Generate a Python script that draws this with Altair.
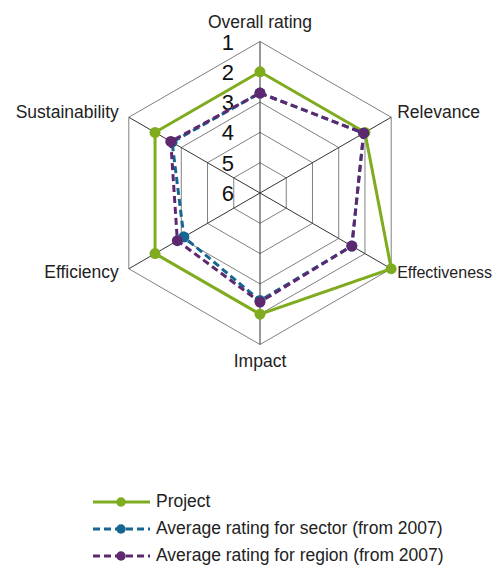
import altair as alt
import pandas as pd

# ---- data ----
categories = ["Overall rating", "Relevance", "Effectiveness", "Impact", "Efficiency", "Sustainability"]
project = [2, 2, 1, 2, 2, 2]
sector = [2.7, 2.05, 2.5, 2.45, 3.1, 2.65]
region = [2.7, 2.05, 2.5, 2.4, 2.85, 2.6]
series_names = ["Project", "Average rating for sector (from 2007)", "Average rating for region (from 2007)"]
series_values = [project, sector, region]
series_colors = ["#7fab1f", "#156792", "#5e2870"]
series_dash = [[1, 0], [7, 4], [7, 4]]
ring_levels = [1, 2, 3, 4, 5]
tick_labels = ["1", "2", "3", "4", "5", "6"]

# ---- layout (styling) ----
U = 30.3          # pixels per rating step
W, H = 487, 559
CX, CY = 252, 185
FONT = "Liberation Sans"
FS = 17.5
N = len(categories)

xs = alt.Scale(domain=[-CX, W - CX], nice=False, zero=False)
ys = alt.Scale(domain=[-(H - CY), CY], nice=False, zero=False)

polar = dict(
    r=f"(6 - datum.rating) * {U}",
    ang=f"datum.idx * PI / 3",
)

def xy(chart):
    return chart.transform_calculate(**polar).transform_calculate(
        px="datum.r * sin(datum.ang)", py="datum.r * cos(datum.ang)"
    )

# series table (closed polygons)
rows = []
for s, vals in zip(series_names, series_values):
    for k in range(N + 1):
        rows.append({"series": s, "idx": k % N, "ord": k, "rating": vals[k % N]})
sdf = pd.DataFrame(rows)

# rings
ring_rows = []
for lv in ring_levels:
    for k in range(N + 1):
        ring_rows.append({"level": lv, "idx": k % N, "ord": k, "rating": lv})
rdf = pd.DataFrame(ring_rows)

# spokes and category labels
cdf = pd.DataFrame({"cat": categories, "idx": list(range(N)), "rating": [ring_levels[0]] * N})

# tick labels
tdf = pd.DataFrame({"lab": tick_labels, "rating": [int(t) for t in tick_labels], "idx": [0] * len(tick_labels)})

X = alt.X("px:Q", scale=xs, axis=None)
Y = alt.Y("py:Q", scale=ys, axis=None)

rings = xy(alt.Chart(rdf)).mark_line(color="#808080", strokeWidth=1).encode(
    x=X, y=Y, detail="level:N", order="ord:Q"
)

spokes = xy(alt.Chart(cdf)).transform_calculate(zx="0", zy="0").mark_rule(
    color="#333333", strokeWidth=1
).encode(
    x=alt.X("zx:Q", scale=xs, axis=None), y=alt.Y("zy:Q", scale=ys, axis=None),
    x2="px:Q", y2="py:Q"
)

ticks = xy(alt.Chart(tdf)).mark_text(
    align="right", baseline="middle", dx=-26, dy=1, fontSize=22, font=FONT, color="#111111"
).encode(x=X, y=Y, text="lab:N")

label_specs = [
    (0, "center", 0, -19, FS),
    (1, "left", 6, -4, FS),
    (2, "left", 6, 4, 16),
    (3, "center", 0, 17, FS),
    (4, "right", -10, 4, FS),
    (5, "right", -10, -4, FS),
]
label_layers = []
for k, al, dx, dy, fs in label_specs:
    label_layers.append(
        xy(alt.Chart(cdf)).transform_filter(f"datum.idx == {k}").mark_text(
            align=al, baseline="middle", dx=dx, dy=dy, fontSize=fs, font=FONT, color="#222222"
        ).encode(x=X, y=Y, text="cat:N")
    )

series_layers = []
for s, c, d in zip(series_names, series_colors, series_dash):
    base = xy(alt.Chart(sdf)).transform_filter(alt.datum.series == s)
    series_layers.append(
        base.mark_line(color=c, strokeWidth=3, strokeDash=d).encode(x=X, y=Y, order="ord:Q")
    )
    series_layers.append(
        base.transform_filter("datum.ord < 6").mark_point(
            color=c, filled=True, opacity=1, size=120
        ).encode(x=X, y=Y)
    )

# legend built from the series list
ldf = pd.DataFrame({"series": series_names, "row": list(range(len(series_names)))})
leg_base = alt.Chart(ldf).transform_calculate(
    ly="-309 - datum.row * 27", lx1="-167", lx2="-110", lxd="-139", lxt="-104"
)
legend_layers = []
for s, c, d in zip(series_names, series_colors, series_dash):
    b = leg_base.transform_filter(alt.datum.series == s)
    legend_layers.append(
        b.mark_rule(color=c, strokeWidth=3, strokeDash=d).encode(
            x=alt.X("lx1:Q", scale=xs, axis=None), x2="lx2:Q",
            y=alt.Y("ly:Q", scale=ys, axis=None)
        )
    )
    legend_layers.append(
        b.mark_point(color=c, filled=True, opacity=1, size=90).encode(
            x=alt.X("lxd:Q", scale=xs, axis=None), y=alt.Y("ly:Q", scale=ys, axis=None)
        )
    )
legend_text = leg_base.mark_text(
    align="left", baseline="middle", fontSize=FS, font=FONT, color="#222222"
).encode(
    x=alt.X("lxt:Q", scale=xs, axis=None), y=alt.Y("ly:Q", scale=ys, axis=None), text="series:N"
)

chart = alt.layer(
    rings, spokes, ticks, *label_layers, *series_layers, *legend_layers, legend_text
).properties(
    width=W, height=H, padding=0, autosize=alt.AutoSizeParams(type="none")
).configure_view(stroke=None)

chart.save("out.html", embed_options={"renderer": "svg", "actions": False})
